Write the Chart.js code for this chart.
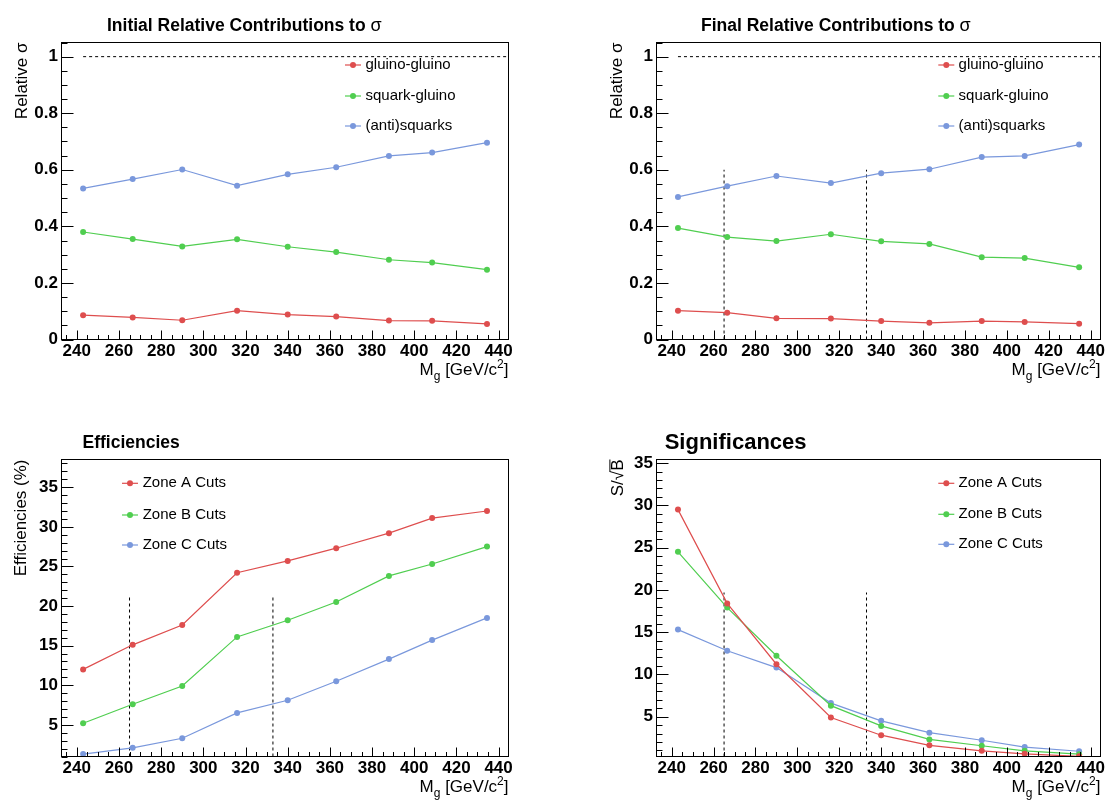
<!DOCTYPE html>
<html>
<head>
<meta charset="utf-8">
<script src="https://cdn.jsdelivr.net/npm/chart.js@4.4.1/dist/chart.umd.min.js"></script>
<style>
html, body { margin: 0; padding: 0; background: #fff; }
#page { position: relative; width: 1105px; height: 801px; overflow: hidden; }
canvas { position: absolute; }
</style>
</head>
<body>
<div id="page">
<canvas id="initial" width="552" height="400" style="left:0;top:0"></canvas>
<canvas id="final" width="553" height="400" style="left:552px;top:0"></canvas>
<canvas id="eff" width="552" height="401" style="left:0;top:400px"></canvas>
<canvas id="signif" width="553" height="401" style="left:552px;top:400px"></canvas>
</div>
<script>
// gluino masses (GeV/c^2)
var masses = [243, 266.5, 290, 316, 340, 363, 388, 408.5, 434.5];

var initGluinoGluino = [0.086, 0.078, 0.068, 0.102, 0.088, 0.081, 0.067, 0.066, 0.055];
var initSquarkGluino = [0.380, 0.355, 0.329, 0.354, 0.328, 0.309, 0.282, 0.272, 0.247];
var initAntiSquarks  = [0.534, 0.567, 0.601, 0.544, 0.584, 0.609, 0.649, 0.661, 0.696];

var finalGluinoGluino = [0.102, 0.095, 0.075, 0.074, 0.065, 0.059, 0.065, 0.062, 0.056];
var finalSquarkGluino = [0.394, 0.362, 0.348, 0.372, 0.347, 0.338, 0.291, 0.288, 0.255];
var finalAntiSquarks  = [0.504, 0.542, 0.578, 0.553, 0.588, 0.602, 0.645, 0.649, 0.689];

var effZoneA = [12.0, 15.1, 17.6, 24.2, 25.7, 27.3, 29.2, 31.1, 32.0];
var effZoneB = [5.2, 7.6, 9.9, 16.1, 18.2, 20.5, 23.8, 25.3, 27.5];
var effZoneC = [1.3, 2.1, 3.3, 6.5, 8.1, 10.5, 13.3, 15.7, 18.5];

var sigZoneA = [29.5, 18.4, 11.2, 4.9, 2.8, 1.6, 0.95, 0.6, 0.3];
var sigZoneB = [24.5, 17.9, 12.2, 6.3, 3.9, 2.3, 1.55, 0.95, 0.55];
var sigZoneC = [15.3, 12.8, 10.8, 6.6, 4.5, 3.1, 2.2, 1.4, 0.9];

var processLabels = ['gluino-gluino', 'squark-gluino', '(anti)squarks'];
var zoneLabels = ['Zone A Cuts', 'Zone B Cuts', 'Zone C Cuts'];

// cut boundaries (dashed lines)
var cutMasses = [265, 333];
var cutTopFinal = 0.6;
var cutTopEff = 21.4;
var cutTopSignif = 19.7;
var unityLine = 1;

var massMin = 232.75, massMax = 444.7;

var colors = ['rgb(222,78,78)', 'rgb(80,206,80)', 'rgb(122,152,220)'];
var FONT = '"Liberation Sans", Arial, Helvetica, sans-serif';

function drawSegments(ctx, segs, x, y, align) {
    var w = 0;
    segs.forEach(function(s) { ctx.font = s.font; w += ctx.measureText(s.t).width; });
    var cx = align === 'right' ? x - w : x;
    segs.forEach(function(s) {
        ctx.font = s.font;
        ctx.fillText(s.t, cx, y + (s.dy || 0));
        cx += ctx.measureText(s.t).width;
    });
    return w;
}

var rootStyle = {
    id: 'rootStyle',
    afterDraw: function(chart, args, o) {
        var ctx = chart.ctx, a = chart.chartArea;
        var xs = chart.scales.x, ys = chart.scales.y;
        ctx.save();
        ctx.strokeStyle = '#000';
        ctx.fillStyle = '#000';
        ctx.lineWidth = 1;
        ctx.setLineDash([]);
        ctx.strokeRect(a.left, a.top, a.right - a.left, a.bottom - a.top);

        // inward ticks
        ctx.beginPath();
        var k, v, p;
        for (k = Math.ceil(ys.min / o.yMinor - 1e-6); k * o.yMinor <= ys.max + 1e-9; k++) {
            v = k * o.yMinor;
            p = Math.round(ys.getPixelForValue(v)) + 0.5;
            ctx.moveTo(a.left, p);
            ctx.lineTo(a.left + (k % o.yRatio === 0 ? 12 : 6), p);
        }
        for (k = Math.ceil(xs.min / 5 - 1e-6); k * 5 <= xs.max + 1e-9; k++) {
            v = k * 5;
            p = Math.round(xs.getPixelForValue(v)) + 0.5;
            ctx.moveTo(p, a.bottom);
            ctx.lineTo(p, a.bottom - (k % 4 === 0 ? 9 : 4.5));
        }
        ctx.stroke();

        // title
        ctx.textAlign = 'left';
        ctx.textBaseline = 'alphabetic';
        drawSegments(ctx, o.title, o.titleX, o.titleY, 'left');

        // x axis title
        drawSegments(ctx, [
            {t: 'M', font: '17px ' + FONT},
            {t: 'g', font: '12px ' + FONT, dy: 5},
            {t: ' [GeV/c', font: '17px ' + FONT},
            {t: '2', font: '12px ' + FONT, dy: -7},
            {t: ']', font: '17px ' + FONT}
        ], a.right, o.xTitleY, 'right');

        // y axis title, rotated, ending at the frame top
        ctx.save();
        ctx.translate(o.yTitleX + 6, a.top);
        ctx.rotate(-Math.PI / 2);
        ctx.font = '17px ' + FONT;
        ctx.textAlign = 'right';
        ctx.fillText(o.yTitle, 0, 0);
        if (o.overline) {
            var wB = ctx.measureText(o.overline).width;
            ctx.beginPath();
            ctx.moveTo(-wB - 1, -13.5);
            ctx.lineTo(0, -13.5);
            ctx.stroke();
        }
        ctx.restore();

        // legend
        ctx.font = '15px ' + FONT;
        ctx.textBaseline = 'middle';
        ctx.textAlign = 'left';
        chart.data.datasets.forEach(function(ds, i) {
            if (ds.isGuide) return;
            var y = o.legendRows[i];
            ctx.strokeStyle = ds.borderColor;
            ctx.lineWidth = 1.2;
            ctx.beginPath();
            ctx.moveTo(o.legendX0, y);
            ctx.lineTo(o.legendX1, y);
            ctx.stroke();
            ctx.fillStyle = ds.borderColor;
            ctx.beginPath();
            ctx.arc((o.legendX0 + o.legendX1) / 2, y, 3, 0, Math.PI * 2);
            ctx.fill();
            ctx.fillStyle = '#000';
            ctx.fillText(ds.label, o.legendText, y);
        });
        ctx.restore();
    }
};

function guide(x0, y0, x1, y1) {
    return {
        data: [{x: x0, y: y0}, {x: x1, y: y1}],
        borderColor: '#000', borderWidth: 1, borderDash: [3, 3],
        pointRadius: 0, isGuide: true
    };
}

function makeChart(id, p) {
    var canvas = document.getElementById(id);
    var W = canvas.width, H = canvas.height;
    var datasets = p.series.map(function(vals, i) {
        return {
            label: p.labels[i],
            data: masses.map(function(m, j) { return {x: m, y: vals[j]}; }),
            borderColor: colors[i],
            backgroundColor: colors[i],
            borderWidth: 1.2,
            pointRadius: 3,
            pointHoverRadius: 3,
            pointBorderWidth: 0,
            tension: 0
        };
    });
    p.guides.forEach(function(g) { datasets.push(g); });

    var tickFont = {family: FONT, size: 17, weight: 'bold'};
    return new Chart(canvas, {
        type: 'line',
        data: {datasets: datasets},
        options: {
            responsive: false,
            animation: false,
            devicePixelRatio: 1,
            layout: {autoPadding: false, padding: {left: 0, top: p.frame.top, right: W - p.frame.right, bottom: 0}},
            plugins: {
                legend: {display: false},
                tooltip: {enabled: false},
                rootStyle: p.style
            },
            scales: {
                x: {
                    type: 'linear', min: massMin, max: massMax,
                    grid: {display: false, drawTicks: false},
                    border: {display: false},
                    ticks: {stepSize: 20, includeBounds: false, autoSkip: false, maxRotation: 0,
                            padding: 1.5, color: '#000', font: tickFont},
                    afterFit: function(s) { s.height = H - p.frame.bottom; s.paddingLeft = 0; s.paddingRight = 0; }
                },
                y: {
                    type: 'linear', min: p.yMin, max: p.yMax,
                    grid: {display: false, drawTicks: false},
                    border: {display: false},
                    ticks: {stepSize: p.yStep, includeBounds: false, autoSkip: false,
                            padding: 3.5, color: '#000', font: tickFont,
                            callback: function(v) { return String(Math.round(v * 100) / 100); }},
                    afterFit: function(s) { s.width = p.frame.left; s.paddingTop = 0; s.paddingBottom = 0; }
                }
            }
        },
        plugins: [rootStyle]
    });
}

makeChart('initial', {
    series: [initGluinoGluino, initSquarkGluino, initAntiSquarks],
    labels: processLabels,
    guides: [guide(243, unityLine, massMax, unityLine)],
    frame: {left: 61.5, right: 508.5, top: 42.5, bottom: 339.5},
    yMin: 0, yMax: 1.05, yStep: 0.2,
    style: {
        title: [{t: 'Initial Relative Contributions to ', font: 'bold 17.5px ' + FONT}, {t: 'σ', font: '18px ' + FONT}],
        titleX: 107, titleY: 31,
        yTitle: 'Relative σ', yTitleX: 21, xTitleY: 375,
        yMinor: 0.05, yRatio: 4,
        legendX0: 345, legendX1: 361, legendText: 365.5, legendRows: [65, 96, 126]
    }
});

makeChart('final', {
    series: [finalGluinoGluino, finalSquarkGluino, finalAntiSquarks],
    labels: processLabels,
    guides: [guide(243, unityLine, massMax, unityLine),
             guide(cutMasses[0], 0, cutMasses[0], cutTopFinal),
             guide(cutMasses[1], 0, cutMasses[1], cutTopFinal)],
    frame: {left: 104.5, right: 548.5, top: 42.5, bottom: 339.5},
    yMin: 0, yMax: 1.05, yStep: 0.2,
    style: {
        title: [{t: 'Final Relative Contributions to ', font: 'bold 17.5px ' + FONT}, {t: 'σ', font: '18px ' + FONT}],
        titleX: 149, titleY: 31,
        yTitle: 'Relative σ', yTitleX: 63.6, xTitleY: 375,
        yMinor: 0.05, yRatio: 4,
        legendX0: 386.3, legendX1: 402.3, legendText: 406.6, legendRows: [65, 96, 126]
    }
});

makeChart('eff', {
    series: [effZoneA, effZoneB, effZoneC],
    labels: zoneLabels,
    guides: [guide(cutMasses[0], 1, cutMasses[0], cutTopEff),
             guide(cutMasses[1], 1, cutMasses[1], cutTopEff)],
    frame: {left: 61.5, right: 508.5, top: 59.5, bottom: 356.5},
    yMin: 1, yMax: 38.5, yStep: 5,
    style: {
        title: [{t: 'Efficiencies', font: 'bold 17.5px ' + FONT}],
        titleX: 82.5, titleY: 48.3,
        yTitle: 'Efficiencies (%)', yTitleX: 19.5, xTitleY: 392,
        yMinor: 1, yRatio: 5,
        legendX0: 122, legendX1: 138, legendText: 142.7, legendRows: [83.3, 115, 145]
    }
});

makeChart('signif', {
    series: [sigZoneA, sigZoneB, sigZoneC],
    labels: zoneLabels,
    guides: [guide(cutMasses[0], 0.28, cutMasses[0], cutTopSignif),
             guide(cutMasses[1], 0.28, cutMasses[1], cutTopSignif)],
    frame: {left: 104.5, right: 548.5, top: 59.5, bottom: 356.5},
    yMin: 0.28, yMax: 35.43, yStep: 5,
    style: {
        title: [{t: 'Significances', font: 'bold 22px ' + FONT}],
        titleX: 112.7, titleY: 49.3,
        yTitle: 'S/√B', overline: 'B', yTitleX: 65.4, xTitleY: 392,
        yMinor: 1, yRatio: 5,
        legendX0: 386.3, legendX1: 402.3, legendText: 406.6, legendRows: [83.3, 114.3, 144.3]
    }
});
</script>
</body>
</html>
